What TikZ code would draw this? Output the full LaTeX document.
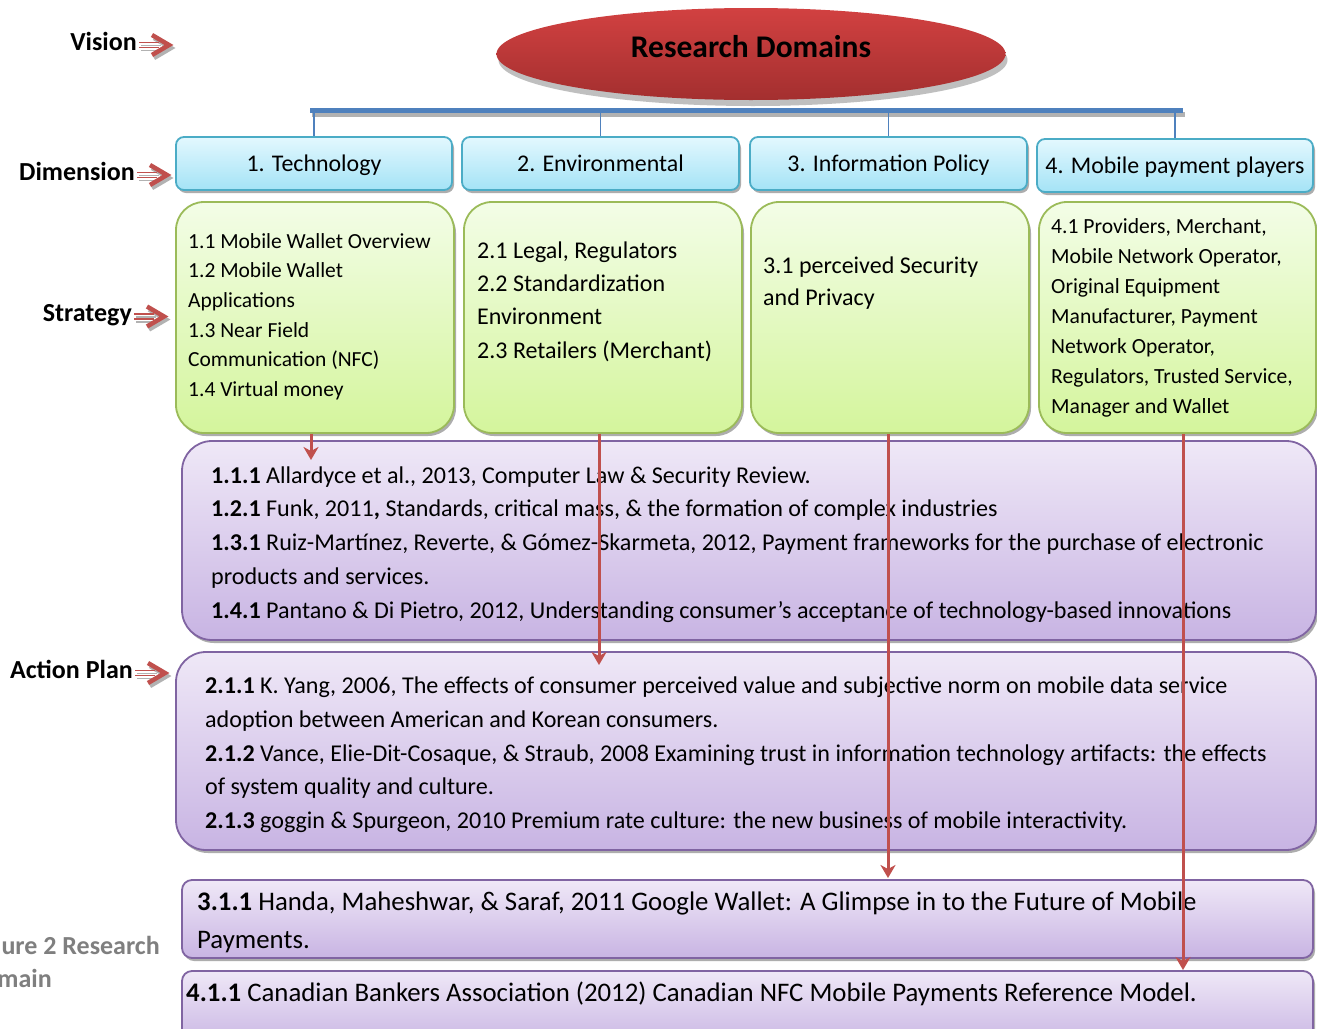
\documentclass[tikz,border=0pt]{standalone}
\usepackage{fontspec}
\setmainfont{Carlito}
\usetikzlibrary{shapes.geometric,shadows,arrows.meta,calc}

\definecolor{dimtop}{HTML}{E3F8FE}
\definecolor{dimbot}{HTML}{A4E3F6}
\definecolor{dimline}{HTML}{4BACC6}
\definecolor{grntop}{HTML}{F3FDE7}
\definecolor{grnbot}{HTML}{D4F59C}
\definecolor{grnline}{HTML}{9BBB59}
\definecolor{purtop}{HTML}{EFE8F7}
\definecolor{purbot}{HTML}{C8B4E3}
\definecolor{purline}{HTML}{8064A2}
\definecolor{domtop}{HTML}{D24141}
\definecolor{dombot}{HTML}{A32F2F}
\definecolor{busblue}{HTML}{4F81BD}
\definecolor{flowred}{HTML}{C0504D}
\definecolor{capgray}{HTML}{7F7F7F}

\tikzset{
  boxshadow/.style={drop shadow={shadow xshift=2pt, shadow yshift=-3pt, fill=black!32, opacity=1}},
  dimbox/.style={draw=dimline, line width=1.8pt, rounded corners=8pt,
    top color=dimtop, bottom color=dimbot, boxshadow, inner sep=0pt,
    text height=18pt, text depth=2pt,
    font=\fontsize{23.9}{28}\selectfont},
  stratbox/.style={draw=grnline, line width=1.8pt, rounded corners=28pt,
    top color=grntop, bottom color=grnbot, boxshadow, inner sep=0pt},
  planbox/.style={draw=purline, line width=1.8pt, rounded corners=30pt,
    top color=purtop, bottom color=purbot, boxshadow, inner sep=0pt},
  refbox/.style={planbox, rounded corners=10pt},
  domainnode/.style={ellipse, inner sep=0pt, top color=domtop, bottom color=dombot,
    drop shadow={shadow xshift=2pt, shadow yshift=-6pt, fill=black!25, opacity=1}},
  domaintext/.style={inner sep=0pt, font=\fontsize{31.5}{34}\selectfont\bfseries},
  levellabel/.style={inner sep=0pt, font=\fontsize{26}{30}\selectfont\bfseries},
  bodytext/.style={inner sep=0pt, align=left, anchor=base west},
  busline/.style={busblue, line width=5pt},
  busshadow/.style={black!30, line width=5pt},
  dropline/.style={busblue, line width=1.5pt},
  flowarrow/.style={flowred, line width=3pt, -{Stealth[length=13pt,width=15pt,inset=4pt]}},
  pics/lblarrow/.style={code={
    \begin{scope}[shift={(2,3)}]
      \draw[black!30, line width=1.5pt] (0,-2.5) -- (20,-2.5) (0,2.5) -- (20,2.5);
      \draw[black!30, line width=4.5pt] (13,-10) -- (30,0) -- (13,10);
    \end{scope}
    \draw[flowred, line width=1.5pt] (0,-2.5) -- (20,-2.5) (0,2.5) -- (20,2.5);
    \draw[flowred, line width=4.5pt] (13,-10) -- (30,0) -- (13,10);
  }}
}

\begin{document}
\begin{tikzpicture}[x=1pt,y=-1pt]
\useasboundingbox (0,0) rectangle (1317,1028);
\clip (0,0) rectangle (1317,1028);
\fill[white] (0,0) rectangle (1317,1028);

% top of the hierarchy
\node[domainnode, minimum width=509pt, minimum height=92pt] (dom) at (751,54) {};
\node[domaintext] (domtext) at (751,47) {Research Domains};

% horizontal bus feeding the four dimensions
\coordinate (busL) at (310,110);
\coordinate (busR) at (1183,110);
\draw[busshadow] ([shift={(2pt,-4pt)}]busL) -- ([shift={(2pt,-4pt)}]busR);
\draw[busline] (busL) -- (busR);

% dimensions
\node[dimbox, minimum width=276pt, minimum height=53pt] (d1) at (314,163.5) {1. Technology};
\node[dimbox, minimum width=277pt, minimum height=53pt] (d2) at (600.5,163.5) {2. Environmental};
\node[dimbox, minimum width=277pt, minimum height=53pt] (d3) at (888.5,163.5) {3. Information Policy};
\node[dimbox, minimum width=276pt, minimum height=53pt] (d4) at (1175,165.5) {4. Mobile payment players};

\foreach \d in {d1,d2,d3,d4}
  \draw[dropline] (\d.north |- busL) -- (\d.north);

% strategies
\node[stratbox, minimum width=278pt, minimum height=231pt] (s1) at (315,317.5) {};
\node[stratbox, minimum width=278pt, minimum height=231pt] (s2) at (603,317.5) {};
\node[stratbox, minimum width=278pt, minimum height=231pt] (s3) at (890,317.5) {};
\node[stratbox, minimum width=277pt, minimum height=231pt] (s4) at (1177.5,317.5) {};

% (multi-line nodes sit on the baseline of their last line)
\node[bodytext, font=\fontsize{21.5}{29.7}\selectfont] (s1t) at (188,396.5)
  {1.1 Mobile Wallet Overview\\1.2 Mobile Wallet\\Applications\\1.3 Near Field\\Communication (NFC)\\1.4 Virtual money};
\node[bodytext, font=\fontsize{24}{33.3}\selectfont] (s2t) at (477,358)
  {2.1 Legal, Regulators\\2.2 Standardization\\Environment\\2.3 Retailers (Merchant)};
\node[bodytext, font=\fontsize{24}{32.7}\selectfont] (s3t) at (763,305.7)
  {3.1 perceived Security\\and Privacy};
\node[bodytext, font=\fontsize{21.6}{30}\selectfont] (s4t) at (1051,413)
  {4.1 Providers, Merchant,\\Mobile Network Operator,\\Original Equipment\\Manufacturer, Payment\\Network Operator,\\Regulators, Trusted Service,\\Manager and Wallet};

% action plans
\node[planbox, minimum width=1134pt, minimum height=199pt] (p1) at (749,540.5) {};
\node[planbox, minimum width=1140pt, minimum height=198pt] (p2) at (746,751) {};
\node[refbox, minimum width=1131pt, minimum height=78pt] (p3) at (747.5,919) {};
\node[refbox, minimum width=1131pt, minimum height=76pt] (p4) at (747.5,1009) {};

\node[bodytext, font=\fontsize{24.1}{33.75}\selectfont] (p1t) at (211,618)
  {\textbf{1.1.1} Allardyce et al., 2013, Computer Law \& Security Review.\\
   \textbf{1.2.1} Funk, 2011\textbf{,} Standards, critical mass, \& the formation of complex industries\\
   \textbf{1.3.1} Ruiz-Martínez, Reverte, \& Gómez-Skarmeta, 2012, Payment frameworks for the purchase of electronic\\
   products and services.\\
   \textbf{1.4.1} Pantano \& Di Pietro, 2012, Understanding consumer's acceptance of technology-based innovations};
\node[bodytext, font=\fontsize{24.1}{33.75}\selectfont] (p2t) at (205,828.5)
  {\textbf{2.1.1} K. Yang, 2006, The effects of consumer perceived value and subjective norm on mobile data service\\
   adoption between American and Korean consumers.\\
   \textbf{2.1.2} Vance, Elie-Dit-Cosaque, \& Straub, 2008 Examining trust in information technology artifacts: the effects\\
   of system quality and culture.\\
   \textbf{2.1.3} goggin \& Spurgeon, 2010 Premium rate culture: the new business of mobile interactivity.};
\node[bodytext, font=\fontsize{26.8}{38}\selectfont] (p3t) at (197,948)
  {\textbf{3.1.1} Handa, Maheshwar, \& Saraf, 2011 Google Wallet: A Glimpse in to the Future of Mobile\\Payments.};
\node[bodytext, font=\fontsize{26.8}{38}\selectfont] (p4t) at (186,1001)
  {\textbf{4.1.1} Canadian Bankers Association (2012) Canadian NFC Mobile Payments Reference Model.};

% flow from each strategy down to its references
\coordinate (e1) at (311,460);
\coordinate (e2) at (599,665);
\coordinate (e3) at (888,878);
\coordinate (e4) at (1183,970);
\draw[flowarrow] (s1.south -| e1) -- (e1);
\draw[flowarrow] (s2.south -| e2) -- (e2);
\draw[flowarrow] (s3.south -| e3) -- (e3);
\draw[flowarrow] (s4.south -| e4) -- (e4);

% level labels on the left
\node[levellabel, anchor=base east] (vision) at (137,50) {Vision};
\node[levellabel, anchor=base east] (dimension) at (135,180) {Dimension};
\node[levellabel, anchor=base east] (strategy) at (132,321.5) {Strategy};
\node[levellabel, anchor=base east] (action) at (133,678) {Action Plan};
\foreach \l in {vision,dimension,strategy,action}
  \pic at ([shift={(2pt,5pt)}]\l.base east) {lblarrow};

% caption
\node[inner sep=0pt, anchor=base east, text=capgray, font=\fontsize{26}{30}\selectfont\bfseries] (cap1) at (160,954) {ure 2 Research};
\node[inner sep=0pt, anchor=base east, text=capgray, font=\fontsize{26}{30}\selectfont\bfseries] (cap2) at (52,987) {main};
\end{tikzpicture}
\end{document}
